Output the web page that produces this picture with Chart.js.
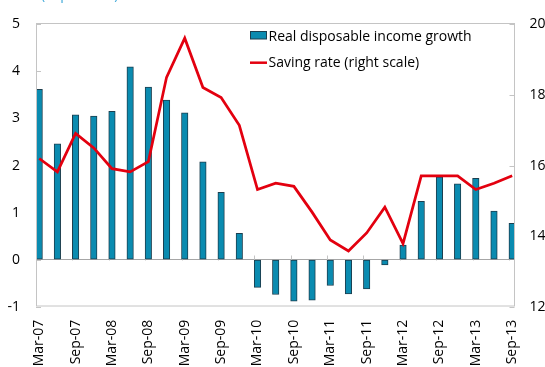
<!DOCTYPE html>
<html>
<head>
<meta charset="utf-8">
<script src="https://cdn.jsdelivr.net/npm/chart.js@4/dist/chart.umd.min.js"></script>
<style>
  html, body { margin: 0; padding: 0; background: #fff; }
  canvas { display: block; }
</style>
</head>
<body>
<canvas id="chart" width="545" height="367"></canvas>
<script>
// Quarterly observations
const categories = ['Mar-07','Jun-07','Sep-07','Dec-07','Mar-08','Jun-08','Sep-08','Dec-08',
  'Mar-09','Jun-09','Sep-09','Dec-09','Mar-10','Jun-10','Sep-10','Dec-10','Mar-11','Jun-11',
  'Sep-11','Dec-11','Mar-12','Jun-12','Sep-12','Dec-12','Mar-13','Jun-13','Sep-13'];

// Real disposable income growth, per cent (left scale)
const incomeGrowth = [3.62, 2.46, 3.08, 3.05, 3.15, 4.10, 3.67, 3.39, 3.12, 2.08, 1.43, 0.56,
  -0.59, -0.74, -0.88, -0.86, -0.55, -0.73, -0.62, -0.11, 0.31, 1.24, 1.76, 1.61, 1.73, 1.03, 0.77];

// Household saving rate, per cent (right scale)
const savingRate = [16.20, 15.82, 16.91, 16.50, 15.91, 15.82, 16.11, 18.50, 19.61, 18.21, 17.93, 17.14,
  15.32, 15.50, 15.41, 14.68, 13.89, 13.58, 14.09, 14.82, 13.79, 15.71, 15.71, 15.71, 15.32, 15.50, 15.71];

// Left and right axis ticks, and the labelled quarters on the bottom axis
const leftTicks = [-1, 0, 1, 2, 3, 4, 5];
const rightTicks = [12, 14, 16, 18, 20];
const labelledIdx = categories.map((c, i) => i).filter(i => i % 2 === 0);

const seriesNames = ['Real disposable income growth', 'Saving rate (right scale)'];
const unitsNote = '(% per cent)';

const BAR_FILL = '#0a8bb0';
const BAR_EDGE = '#1c3f4f';
const LINE_RED = '#e3000f';
const FRAME = '#c4c4c4';
const FONT = '"Open Sans", "Noto Sans", sans-serif';

const xMin = -0.176, xMax = 26.127;

const decorations = {
  id: 'decorations',
  beforeDatasetsDraw(chart) {
    const { ctx, chartArea: a, scales } = chart;
    ctx.save();
    ctx.strokeStyle = FRAME;
    ctx.lineWidth = 1;
    // inward tick marks on both value axes
    ctx.beginPath();
    leftTicks.forEach(v => {
      const y = Math.round(scales.y.getPixelForValue(v)) + 0.5;
      ctx.moveTo(a.left, y); ctx.lineTo(a.left + 5, y);
    });
    rightTicks.forEach(v => {
      const y = Math.round(scales.y1.getPixelForValue(v)) + 0.5;
      ctx.moveTo(a.right - 5, y); ctx.lineTo(a.right, y);
    });
    // category tick marks rising from the zero line
    const y0 = Math.round(scales.y.getPixelForValue(0)) + 0.5;
    labelledIdx.forEach(i => {
      const x = Math.round(scales.x.getPixelForValue(i + xMin)) + 0.5;
      ctx.moveTo(x, y0 - 5); ctx.lineTo(x, y0);
    });
    ctx.stroke();
    ctx.restore();
  },
  afterDraw(chart) {
    const { ctx, chartArea: a } = chart;
    ctx.save();
    // plot frame
    ctx.strokeStyle = FRAME;
    ctx.lineWidth = 1;
    ctx.strokeRect(Math.round(a.left) + 0.5, Math.round(a.top) - 0.5,
                   Math.round(a.right - a.left) - 1, Math.round(a.bottom - a.top) + 0.5);
    // units note above the plot
    ctx.fillStyle = '#3fa9d9';
    ctx.font = '14px ' + FONT;
    ctx.textBaseline = 'alphabetic';
    ctx.textAlign = 'left';
    ctx.fillText(unitsNote, 41, -1.5);
    // legend
    const lx = 250;
    ctx.fillStyle = BAR_FILL;
    ctx.fillRect(lx, 31.5, 16.5, 7.5);
    ctx.strokeStyle = BAR_EDGE;
    ctx.strokeRect(lx + 0.5, 31.5, 16, 7.5);
    ctx.strokeStyle = LINE_RED;
    ctx.lineWidth = 2.5;
    ctx.beginPath();
    ctx.moveTo(lx, 62.7); ctx.lineTo(lx + 17, 62.7);
    ctx.stroke();
    ctx.fillStyle = '#000';
    ctx.font = '14px ' + FONT;
    ctx.fillText(seriesNames[0], 268.5, 40.7);
    ctx.fillText(seriesNames[1], 268.5, 67);
    ctx.restore();
  }
};

new Chart(document.getElementById('chart'), {
  type: 'bar',
  data: {
    datasets: [
      {
        type: 'line',
        label: seriesNames[1],
        data: savingRate.map((v, i) => ({ x: i, y: v })),
        yAxisID: 'y1',
        borderColor: LINE_RED,
        borderWidth: 2.75,
        pointRadius: 0,
        tension: 0,
        order: 0
      },
      {
        type: 'bar',
        label: seriesNames[0],
        data: incomeGrowth.map((v, i) => ({ x: i, y: v })),
        yAxisID: 'y',
        backgroundColor: BAR_FILL,
        borderColor: BAR_EDGE,
        borderWidth: 1,
        borderSkipped: false,
        barThickness: 6.5,
        order: 1
      }
    ]
  },
  options: {
    responsive: false,
    animation: false,
    devicePixelRatio: 1,
    layout: { padding: { top: 13.5, left: 0, right: 0, bottom: 0 } },
    plugins: {
      legend: { display: false },
      tooltip: { enabled: false }
    },
    scales: {
      x: {
        type: 'linear',
        min: xMin,
        max: xMax,
        offset: false,
        grid: { display: false, drawTicks: false, offset: false },
        border: { display: false },
        afterBuildTicks(scale) { scale.ticks = labelledIdx.map(v => ({ value: v })); },
        afterFit(scale) { scale.height = 60.3; },
        ticks: {
          autoSkip: false,
          minRotation: 90,
          maxRotation: 90,
          padding: 13,
          color: '#000',
          font: { family: FONT, size: 14 },
          callback: v => categories[v]
        }
      },
      y: {
        position: 'left',
        min: -1,
        max: 5,
        afterBuildTicks(scale) { scale.ticks = leftTicks.map(v => ({ value: v })); },
        afterFit(scale) { scale.width = 36; },
        grid: {
          drawTicks: false,
          color: ctx => ctx.tick && ctx.tick.value === 0 ? '#a6a6a6' : 'rgba(0,0,0,0)'
        },
        border: { display: false },
        ticks: {
          padding: 16,
          color: '#000',
          font: { family: FONT, size: 14 }
        }
      },
      y1: {
        position: 'right',
        min: 12,
        max: 20,
        afterBuildTicks(scale) { scale.ticks = rightTicks.map(v => ({ value: v })); },
        afterFit(scale) { scale.width = 30.5; },
        grid: { display: false, drawTicks: false },
        border: { display: false },
        ticks: {
          padding: 15,
          color: '#000',
          font: { family: FONT, size: 14 }
        }
      }
    }
  },
  plugins: [decorations]
});
</script>
</body>
</html>
